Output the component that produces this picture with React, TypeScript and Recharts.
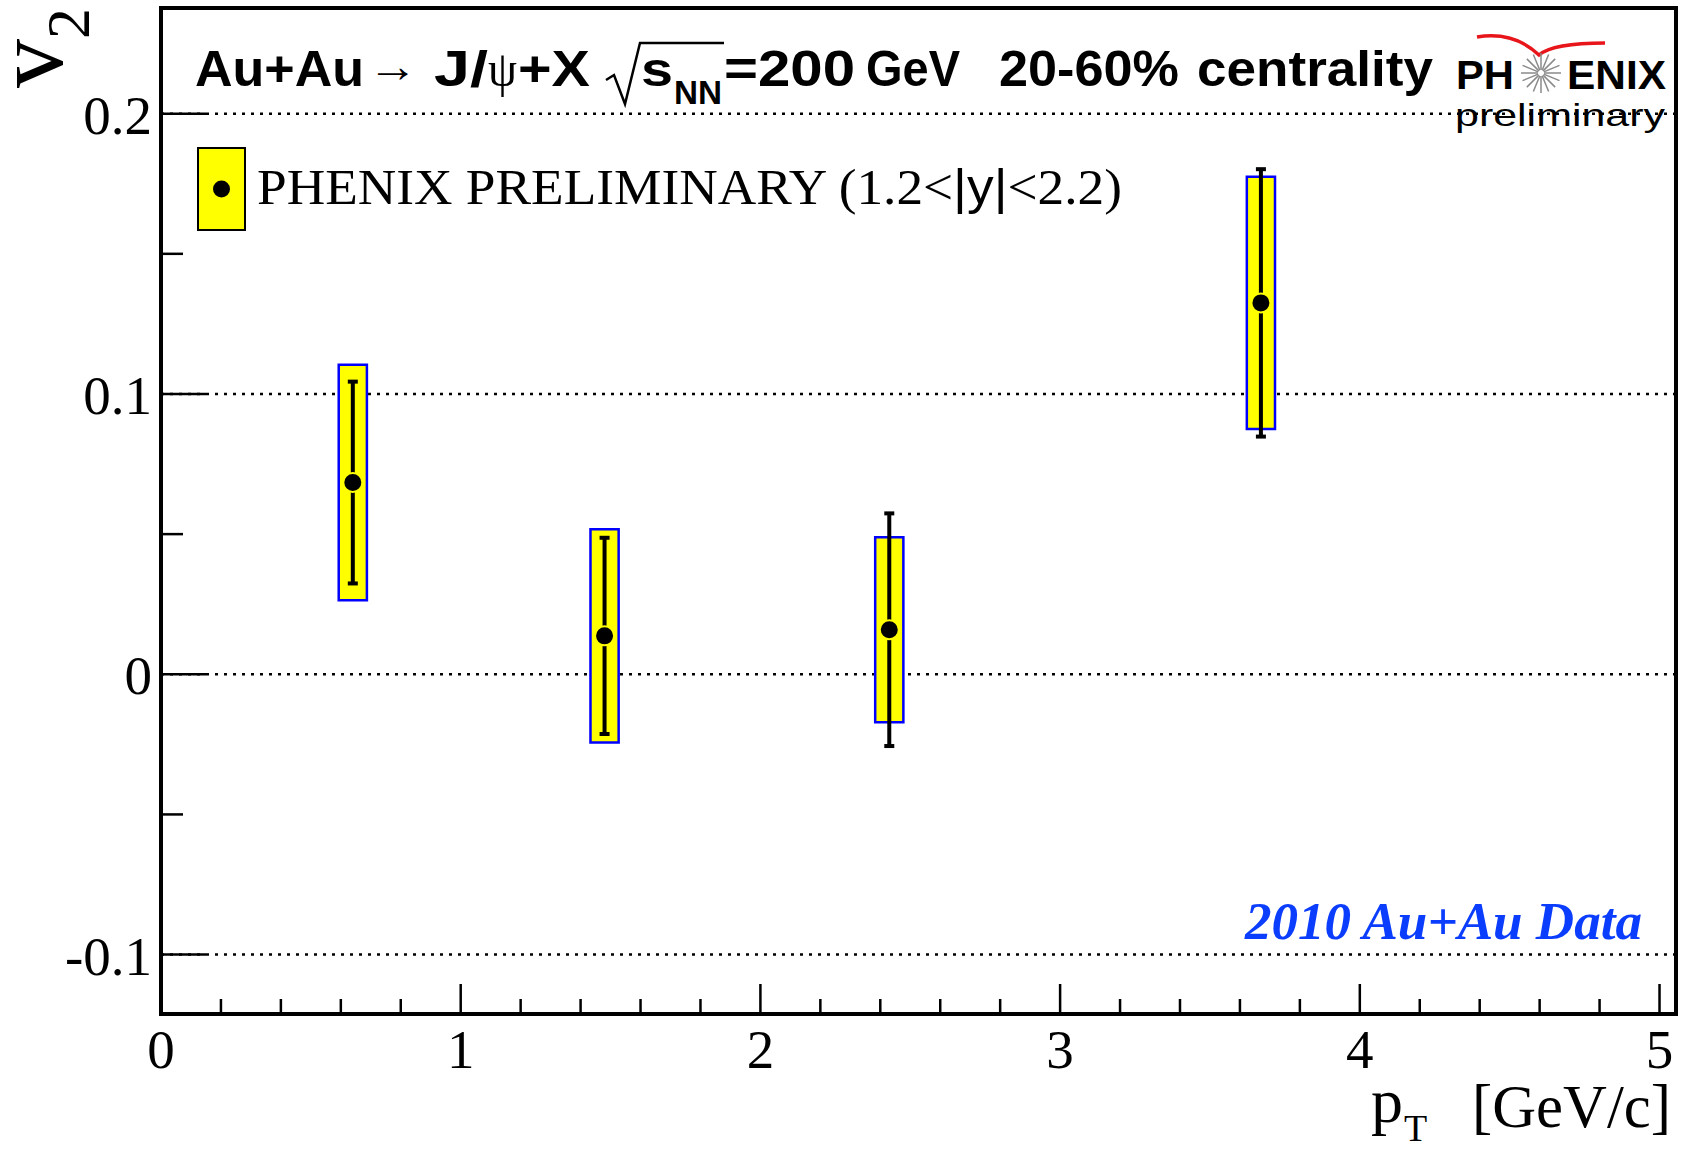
import {
  CartesianGrid,
  ComposedChart,
  ErrorBar,
  Legend,
  ReferenceArea,
  Scatter,
  XAxis,
  YAxis,
} from 'recharts';

// J/psi v2 vs pT, 20-60% centrality, 1.2<|y|<2.2
const ptValues = [0.64, 1.48, 2.43, 3.67];
const v2Values = [0.0684, 0.0137, 0.0159, 0.1325];
const statErrors = [0.036, 0.035, 0.0415, 0.0477];
const sysErrors = [0.042, 0.038, 0.033, 0.045];
const sysHalfWidth = 0.047;

const xMajorTicks = [0, 1, 2, 3, 4, 5];
const xMinorTicks = [
  0.2, 0.4, 0.6, 0.8, 1.2, 1.4, 1.6, 1.8, 2.2, 2.4, 2.6, 2.8, 3.2, 3.4, 3.6, 3.8, 4.2, 4.4,
  4.6, 4.8,
];
const yMajorTicks = [-0.1, 0, 0.1, 0.2];
const yMinorTicks = [-0.05, 0.05, 0.15];
const gridValues = [-0.1, 0, 0.1, 0.2];

const xDomain = [0, 5.055];
const yDomain = [-0.1212, 0.2377];

const legendLabel = ['PHENIX PRELIMINARY (1.2<', '|y|', '<2.2)'];

const points = ptValues.map((pt, i) => ({
  pt,
  v2: v2Values[i],
  stat: statErrors[i],
  sysLow: v2Values[i] - sysErrors[i],
  sysHigh: v2Values[i] + sysErrors[i],
}));

const SERIF = '"Liberation Serif", "Times New Roman", serif';
const SANS = '"Liberation Sans", Arial, sans-serif';
const YELLOW = '#ffff00';

const isIn = (list: number[], v: number) => list.some((t) => Math.abs(t - v) < 1e-6);

function XTick(props: any) {
  const { x, y, payload } = props;
  const major = isIn(xMajorTicks, payload.value);
  return (
    <g>
      <line x1={x} x2={x} y1={y} y2={y - (major ? 30 : 15)} stroke="#000" strokeWidth={2.5} />
      {major && (
        <text x={x} y={y + 54} textAnchor="middle" fontFamily={SERIF} fontSize={55} fill="#000">
          {payload.value}
        </text>
      )}
    </g>
  );
}

function YTick(props: any) {
  const { x, y, payload } = props;
  const major = isIn(yMajorTicks, payload.value);
  return (
    <g>
      <line x1={x} x2={x + (major ? 45 : 22)} y1={y} y2={y} stroke="#000" strokeWidth={2.5} />
      {major && (
        <text x={x - 9} y={y + 20} textAnchor="end" fontFamily={SERIF} fontSize={55} fill="#000">
          {payload.value === 0 ? '0' : String(payload.value)}
        </text>
      )}
    </g>
  );
}

function Marker(props: any) {
  const { cx, cy } = props;
  return <circle cx={cx} cy={cy} r={9.5} fill="#000" stroke={YELLOW} strokeWidth={2} />;
}

function LegendBox() {
  return (
    <svg width={1681} height={260}>
      <rect x={198} y={148} width={47} height={82} fill={YELLOW} stroke="#000" strokeWidth={2} />
      <circle cx={221.5} cy={189} r={8.5} fill="#000" />
      <text
        x={257}
        y={204}
        fontFamily={SERIF}
        fontSize={50}
        textLength={865}
        lengthAdjust="spacingAndGlyphs"
        fill="#000"
      >
        {legendLabel[0]}
        <tspan fontFamily={SANS}>{legendLabel[1]}</tspan>
        {legendLabel[2]}
      </text>
    </svg>
  );
}

function Decorations() {
  const rays = Array.from({ length: 16 }, (_, i) => (i * Math.PI) / 8);
  return (
    <svg
      width={1681}
      height={1149}
      style={{ position: 'absolute', left: 0, top: 0, pointerEvents: 'none' }}
    >
      {/* title */}
      <g fontFamily={SANS} fontWeight="bold" fontSize={50} fill="#000">
        <text x={195} y={86} textLength={169} lengthAdjust="spacingAndGlyphs">Au+Au</text>
        <text x={368} y={82} fontFamily={SERIF} fontWeight="normal" fontSize={46} textLength={50} lengthAdjust="spacingAndGlyphs">→</text>
        <text x={434} y={86} textLength={54} lengthAdjust="spacingAndGlyphs">J/</text>
        <text x={488} y={86} fontFamily={SERIF} fontWeight="normal" fontSize={50} textLength={29} lengthAdjust="spacingAndGlyphs">ψ</text>
        <text x={518} y={86} textLength={72} lengthAdjust="spacingAndGlyphs">+X</text>
        <path d="M606,80 L614,75 L625,104 L640,43 L724,43" fill="none" stroke="#000" strokeWidth={2.5} />
        <text x={641} y={86} fontSize={48} textLength={32} lengthAdjust="spacingAndGlyphs">s</text>
        <text x={674} y={104} fontSize={34} textLength={48} lengthAdjust="spacingAndGlyphs">NN</text>
        <text x={724} y={86} textLength={131} lengthAdjust="spacingAndGlyphs">=200</text>
        <text x={866} y={86} textLength={94} lengthAdjust="spacingAndGlyphs">GeV</text>
        <text x={999} y={86} textLength={180} lengthAdjust="spacingAndGlyphs">20-60%</text>
        <text x={1197} y={86} textLength={236} lengthAdjust="spacingAndGlyphs">centrality</text>
      </g>

      {/* PHENIX logo */}
      <path d="M1477,37 Q1514,31 1539,55 Q1553,43 1605,43" fill="none" stroke="#e8161b" strokeWidth={3.5} />
      <g stroke="#8a8a8a" strokeWidth={1.5}>
        {rays.map((a, i) => (
          <line
            key={i}
            x1={1541 + 3 * Math.cos(a)}
            y1={73 + 3 * Math.sin(a)}
            x2={1541 + 20 * Math.cos(a)}
            y2={73 + 20 * Math.sin(a)}
          />
        ))}
      </g>
      <g fontFamily={SANS} fontWeight="bold" fontSize={40} fill="#000">
        <text x={1456} y={89} textLength={58} lengthAdjust="spacingAndGlyphs">PH</text>
        <text x={1567} y={89} textLength={99} lengthAdjust="spacingAndGlyphs">ENIX</text>
      </g>
      <text x={1455} y={126} fontFamily={SANS} fontSize={32} fill="#000" textLength={210} lengthAdjust="spacingAndGlyphs">
        preliminary
      </text>

      {/* data tag */}
      <text
        x={1245}
        y={939}
        fontFamily={SERIF}
        fontWeight="bold"
        fontStyle="italic"
        fontSize={53}
        fill="#0b3dff"
        textLength={397}
        lengthAdjust="spacingAndGlyphs"
      >
        2010 Au+Au Data
      </text>

      {/* y axis title */}
      <text transform="translate(62, 88) rotate(-90)" fontFamily={SERIF} fontSize={98} fill="#000">
        v
        <tspan dy={27} fontSize={62}>
          2
        </tspan>
      </text>

      {/* x axis title */}
      <g fontFamily={SERIF} fill="#000">
        <text x={1371} y={1122} fontSize={64}>p</text>
        <text x={1404} y={1141} fontSize={38}>T</text>
        <text x={1472} y={1127} fontSize={62} textLength={199} lengthAdjust="spacingAndGlyphs">
          [GeV/c]
        </text>
      </g>
    </svg>
  );
}

export default function App() {
  return (
    <div
      style={{
        position: 'absolute',
        left: 0,
        top: 0,
        width: 1681,
        height: 1149,
        background: '#fff',
      }}
    >
      <ComposedChart
        width={1681}
        height={1149}
        data={points}
        margin={{ top: 8, right: 5, bottom: 75, left: 61 }}
      >
        <CartesianGrid
          horizontal
          vertical={false}
          horizontalValues={gridValues}
          stroke="#000"
          strokeWidth={2.5}
          strokeDasharray="3 6"
        />
        <XAxis
          type="number"
          dataKey="pt"
          domain={xDomain}
          ticks={[...xMajorTicks, ...xMinorTicks].sort((a, b) => a - b)}
          interval={0}
          tickSize={0}
          tickMargin={0}
          tickLine={false}
          axisLine={false}
          tick={<XTick />}
          height={60}
          allowDataOverflow
        />
        <YAxis
          type="number"
          domain={yDomain}
          ticks={[...yMajorTicks, ...yMinorTicks].sort((a, b) => a - b)}
          interval={0}
          tickSize={0}
          tickMargin={0}
          tickLine={false}
          axisLine={false}
          tick={<YTick />}
          width={100}
          allowDataOverflow
        />
        {points.map((p) => (
          <ReferenceArea
            key={p.pt}
            x1={p.pt - sysHalfWidth}
            x2={p.pt + sysHalfWidth}
            y1={p.sysLow}
            y2={p.sysHigh}
            fill={YELLOW}
            fillOpacity={1}
            stroke="#0000ff"
            strokeWidth={2.5}
            ifOverflow="visible"
          />
        ))}
        <Scatter dataKey="v2" shape={<Marker />} isAnimationActive={false}>
          <ErrorBar
            dataKey="stat"
            direction="y"
            width={5}
            strokeWidth={4}
            stroke="#000"
            isAnimationActive={false}
          />
        </Scatter>
        <ReferenceArea
          x1={xDomain[0]}
          x2={xDomain[1]}
          y1={yDomain[0]}
          y2={yDomain[1]}
          fill="none"
          stroke="#000"
          strokeWidth={4}
          ifOverflow="visible"
        />
        <Legend
          layout="horizontal"
          verticalAlign="middle"
          align="center"
          content={() => <LegendBox />}
          wrapperStyle={{ left: 0, top: 0, width: 1681, height: 260 }}
        />
      </ComposedChart>
      <Decorations />
    </div>
  );
}
